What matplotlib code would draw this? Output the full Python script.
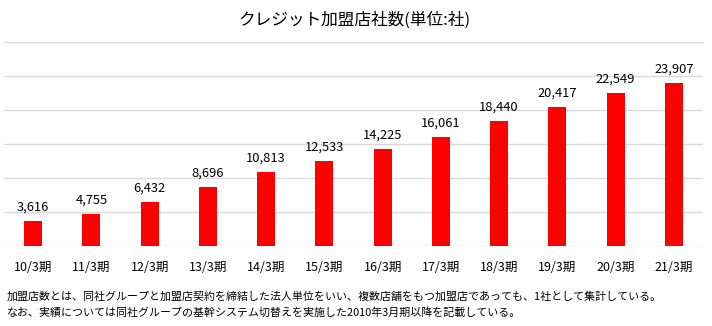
import matplotlib
matplotlib.use("Agg")
import matplotlib.pyplot as plt

plt.rcParams['font.family'] = ['Noto Sans CJK JP', 'DejaVu Sans']

categories = ["10/3期", "11/3期", "12/3期", "13/3期", "14/3期", "15/3期",
              "16/3期", "17/3期", "18/3期", "19/3期", "20/3期", "21/3期"]
values = [3616, 4755, 6432, 8696, 10813, 12533, 14225, 16061, 18440, 20417, 22549, 23907]
title = "クレジット加盟店社数(単位:社)"
notes = ["加盟店数とは、同社グループと加盟店契約を締結した法人単位をいい、複数店舗をもつ加盟店であっても、1社として集計している。",
         "なお、実績については同社グループの基幹システム切替えを実施した2010年3月期以降を記載している。"]

W, H = 712, 326
fig = plt.figure(figsize=(W/100, H/100), dpi=100)
ax = fig.add_axes([4/W, 1-246/H, (703-4)/W, (246-42)/H])

x = list(range(len(categories)))
bars = ax.bar(x, values, width=0.31, color="#ff0000", zorder=3)
ax.set_xlim(-0.5, len(categories)-0.5)
ax.set_ylim(0, 30000)
ax.set_yticks(range(0, 30001, 5000))
ax.yaxis.grid(True, color="#d9d9d9", linewidth=1.0, zorder=0)
ax.tick_params(axis='y', left=False, labelleft=False)
ax.tick_params(axis='x', bottom=False, pad=7, labelsize=9)
ax.set_xticks(x)
ax.set_xticklabels(categories)
for s in ax.spines.values():
    s.set_visible(False)

for xi, v in zip(x, values):
    ax.annotate(f"{v:,}", (xi, v), xytext=(0, 10), textcoords="offset points",
                ha="center", va="center", fontsize=9.3)

fig.text(354/W, 1-20/H, title, ha="center", va="center", fontsize=12)
fig.text(7/W, 1-297/H, notes[0], ha="left", va="center", fontsize=7.9)
fig.text(7/W, 1-313/H, notes[1], ha="left", va="center", fontsize=7.9)

fig.savefig("out.png", dpi=100)
